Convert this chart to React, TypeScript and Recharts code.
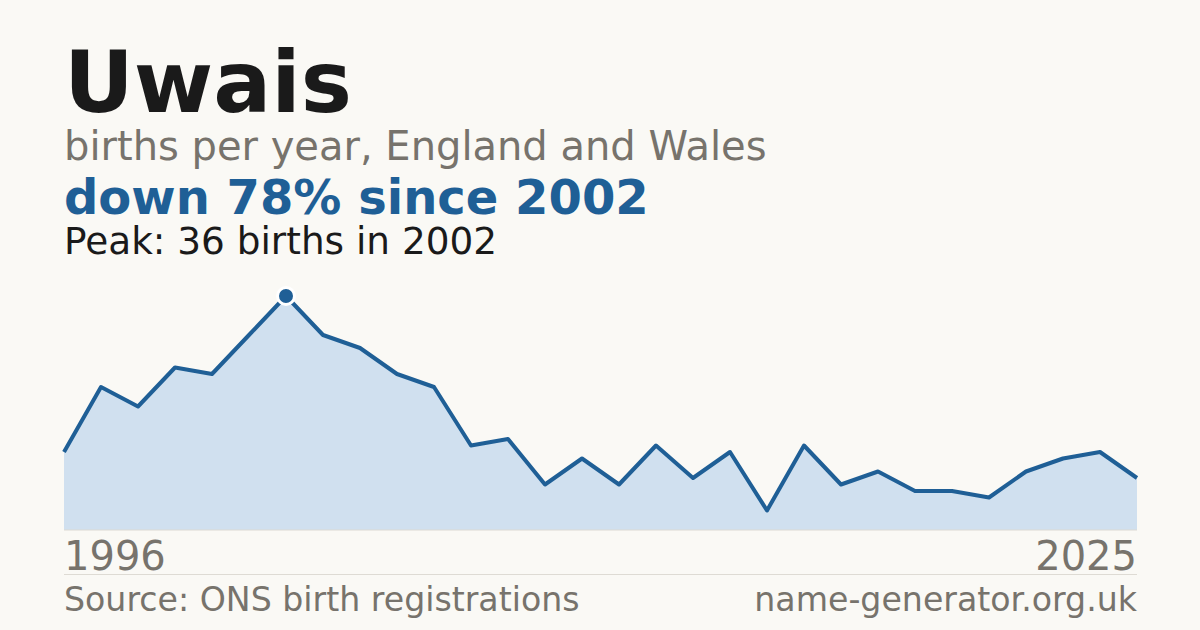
import React from 'react';
import { AreaChart, Area, XAxis, YAxis, ReferenceDot, ReferenceLine } from 'recharts';

const YEARS = [
  1996, 1997, 1998, 1999, 2000, 2001, 2002, 2003, 2004, 2005,
  2006, 2007, 2008, 2009, 2010, 2011, 2012, 2013, 2014, 2015,
  2016, 2017, 2018, 2019, 2020, 2021, 2022, 2023, 2024, 2025,
];
const BIRTHS = [
  12, 22, 19, 25, 24, 30, 36, 30, 28, 24,
  22, 13, 14, 7, 11, 7, 13, 8, 12, 3,
  13, 7, 9, 6, 6, 5, 9, 11, 12, 8,
];
const PEAK_YEAR = 2002;
const PEAK_VALUE = 36;

const NAME = 'Uwais';
const SUBTITLE = 'births per year, England and Wales';
const HEADLINE = 'down 78% since 2002';
const PEAK_LABEL = 'Peak: 36 births in 2002';
const SOURCE = 'Source: ONS birth registrations';
const SITE = 'name-generator.org.uk';

const BLUE = '#1f5f96';
const FILL = '#d0e0ef';
const GREY = '#77736c';
const INK = '#1a1a1a';
const FONT = '"DejaVu Sans", sans-serif';

const data = YEARS.map((year, i) => ({ year, births: BIRTHS[i] }));

export default function App() {
  return (
    <div
      style={{
        position: 'absolute',
        left: 0,
        top: 0,
        width: 1200,
        height: 630,
        background: '#faf9f5',
        overflow: 'hidden',
        fontFamily: FONT,
      }}
    >
      <div style={{ position: 'absolute', left: 0, top: 0 }}>
        <AreaChart
          width={1200}
          height={630}
          data={data}
          margin={{ top: 296, right: 63, bottom: 100, left: 64 }}
        >
          <XAxis dataKey="year" type="number" domain={[1996, 2025]} hide />
          <YAxis domain={[0, PEAK_VALUE]} hide />
          <ReferenceLine y={0} stroke="#dcdad3" strokeWidth={1} />
          <Area
            type="linear"
            dataKey="births"
            stroke={BLUE}
            strokeWidth={4}
            strokeLinejoin="round"
            fill={FILL}
            fillOpacity={1}
            dot={false}
            activeDot={false}
            isAnimationActive={false}
          />
          <ReferenceDot
            x={PEAK_YEAR}
            y={PEAK_VALUE}
            r={8.5}
            fill={BLUE}
            stroke="#ffffff"
            strokeWidth={3}
          />
        </AreaChart>
      </div>
      <svg
        width={1200}
        height={630}
        style={{ position: 'absolute', left: 0, top: 0, fontFamily: FONT }}
      >
        <text x={64} y={112} fontSize={86} fontWeight="bold" fill={INK}>{NAME}</text>
        <text x={64} y={160} fontSize={40} fill={GREY}>{SUBTITLE}</text>
        <text x={64} y={214} fontSize={48} fontWeight="bold" fill={BLUE}>{HEADLINE}</text>
        <text x={64} y={254} fontSize={37.4} fill={INK}>{PEAK_LABEL}</text>
        <text x={64} y={570} fontSize={40} fill={GREY}>{YEARS[0]}</text>
        <text x={1137} y={570} fontSize={40} fill={GREY} textAnchor="end">{YEARS[YEARS.length - 1]}</text>
        <line x1={64} x2={1137} y1={574.5} y2={574.5} stroke="#dedbd4" strokeWidth={1} />
        <text x={64} y={611} fontSize={33.2} fill={GREY}>{SOURCE}</text>
        <text x={1137} y={611} fontSize={33.2} fill={GREY} textAnchor="end">{SITE}</text>
      </svg>
    </div>
  );
}
